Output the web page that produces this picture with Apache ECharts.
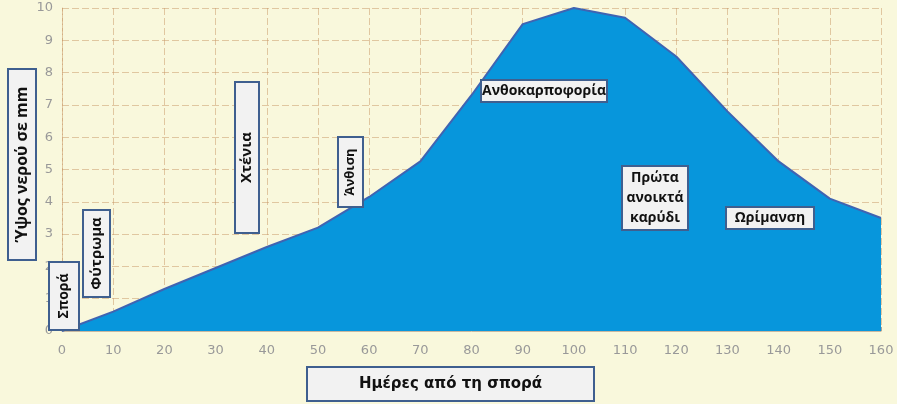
<!DOCTYPE html>
<html>
<head>
<meta charset="utf-8">
<script src="https://cdn.jsdelivr.net/npm/echarts@6/dist/echarts.min.js"></script>
<style>
html,body{margin:0;padding:0;background:#f9f8dc;}
#chart{width:897px;height:404px;}
</style>
</head>
<body>
<div id="chart"></div>
<script>
// Data
const days = [0, 10, 20, 30, 40, 50, 60, 70, 80, 90, 100, 110, 120, 130, 140, 150, 160];
const waterHeight = [0, 0.6, 1.3, 1.95, 2.6, 3.2, 4.15, 5.25, 7.3, 9.5, 10, 9.7, 8.5, 6.8, 5.25, 4.1, 3.5];
const yAxisTitle = 'Ύψος νερού σε mm';
const xAxisTitle = 'Ημέρες από τη σπορά';
const stageLabels = ['Σπορά', 'Φύτρωμα', 'Χτένια', 'Άνθιση', 'Ανθοκαρποφορία', 'Πρώτα\nανοικτά\nκαρύδι', 'Ωρίμανση'];

const chart = echarts.init(document.getElementById('chart'));
const FONT = '"Open Sans", "Noto Sans", sans-serif';
const gridColor = 'rgba(200,150,100,0.5)';

function box(x, y, w, h, text, vertical, fontSize, lineHeight, family) {
  return {
    type: 'group',
    z: 100,
    children: [
      {
        type: 'rect',
        z: 100,
        shape: { x: x, y: y, width: w, height: h },
        style: { fill: '#f2f2f2', stroke: '#3f5f8f', lineWidth: 2 }
      },
      {
        type: 'text',
        z: 101,
        x: x + w / 2,
        y: y + h / 2,
        rotation: vertical ? Math.PI / 2 : 0,
        style: {
          text: text,
          fill: '#111',
          font: 'bold ' + (fontSize || 14) + 'px ' + (family || FONT),
          lineHeight: lineHeight || (fontSize || 14) + 4,
          align: 'center',
          verticalAlign: 'middle',
          textAlign: 'center',
          textVerticalAlign: 'middle'
        }
      }
    ]
  };
}

const option = {
  backgroundColor: '#f9f8dc',
  animation: false,
  grid: { left: 62, right: 16, top: 8, bottom: 73 },
  xAxis: {
    type: 'value',
    min: 0,
    max: 160,
    interval: 10,
    axisLine: { show: true, lineStyle: { color: '#c8b8a0', width: 1 } },
    axisTick: { show: true, inside: true, length: 4, lineStyle: { color: '#b0a090' } },
    axisLabel: { color: '#999999', fontSize: 13, fontFamily: 'DejaVu Sans', margin: 13 },
    splitLine: { show: true, lineStyle: { color: gridColor, type: [7, 3], width: 1 } }
  },
  yAxis: {
    type: 'value',
    min: 0,
    max: 10,
    interval: 1,
    axisLine: { show: true, lineStyle: { color: gridColor, type: [7, 3] } },
    axisTick: { show: false },
    axisLabel: { color: '#999999', fontSize: 13, fontFamily: 'DejaVu Sans', margin: 9 },
    splitLine: { show: true, lineStyle: { color: gridColor, type: [7, 3], width: 1 } }
  },
  series: [{
    type: 'line',
    data: days.map((d, i) => [d, waterHeight[i]]),
    symbol: 'none',
    itemStyle: { color: '#3f64b2' },
    lineStyle: { color: '#3f64b2', width: 2 },
    areaStyle: { color: '#0796dc', opacity: 1 },
    z: 2
  }],
  graphic: [
    box(8, 69, 28, 191, yAxisTitle, true, 16),
    box(49, 262, 30, 68, stageLabels[0], true, 14),
    box(83, 210, 27, 87, stageLabels[1], true, 15),
    box(235, 82, 24, 151, stageLabels[2], true, 15),
    box(338, 137, 25, 70, stageLabels[3], true, 13),
    box(481, 80, 126, 22, stageLabels[4], false, 14),
    box(622, 166, 66, 64, stageLabels[5], false, 14, 20),
    box(726, 207, 88, 22, stageLabels[6], false, 14),
    box(307, 367, 287, 34, xAxisTitle, false, 15, 18, '"DejaVu Sans", sans-serif')
  ]
};
chart.setOption(option);
</script>
</body>
</html>
